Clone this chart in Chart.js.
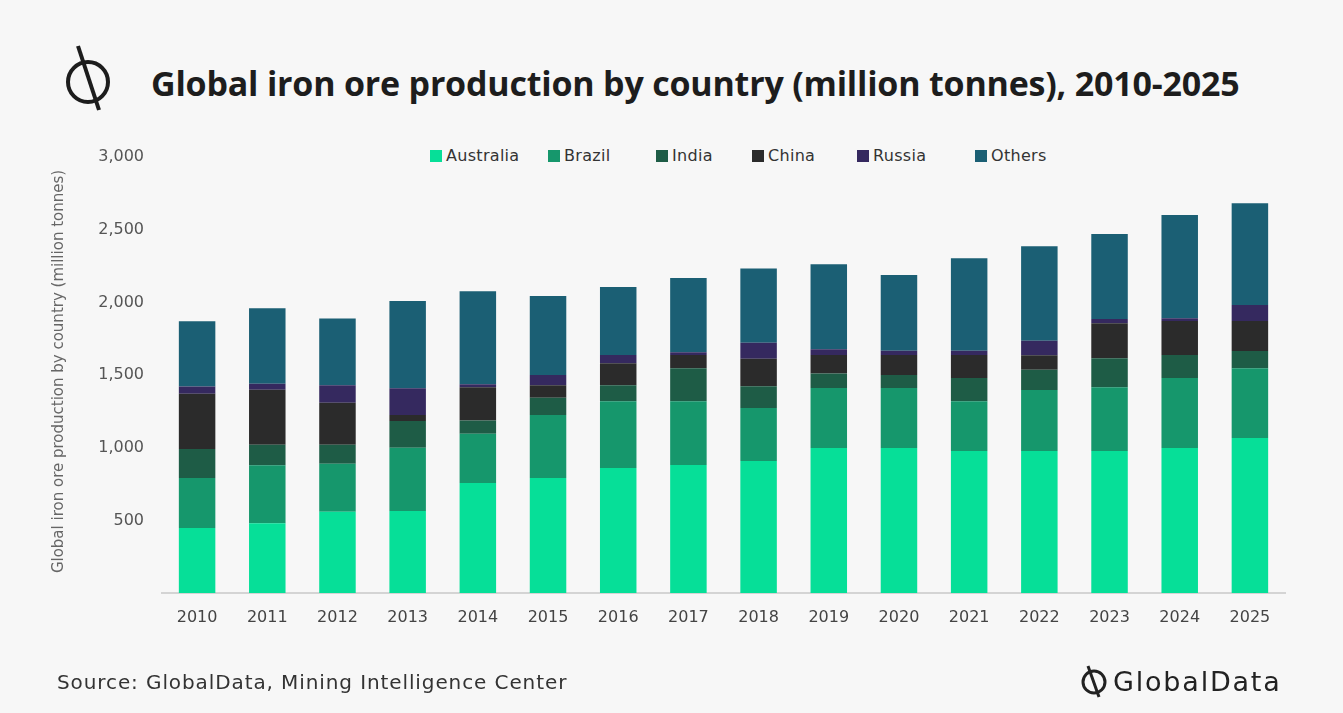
<!DOCTYPE html>
<html>
<head>
<meta charset="utf-8">
<script src="https://cdn.jsdelivr.net/npm/chart.js@4.4.1/dist/chart.umd.min.js"></script>
<style>
  body { margin: 0; background: #f7f7f7; font-family: "DejaVu Sans", sans-serif; }
  #wrap { position: relative; width: 1343px; height: 713px; overflow: hidden; }
  #Chart { position: absolute; left: 0; top: 0; }
  #title { position: absolute; left: 151px; top: 60px; font-family: "Open Sans", sans-serif; font-size: 34px; font-weight: bold; color: #1d1d1d; white-space: nowrap; letter-spacing: -0.2px; }
  #logo { position: absolute; left: 54px; top: 42px; }
  #legend span.item { position: absolute; top: 146px; display: flex; align-items: center; font-size: 16px; color: #333; white-space: nowrap; letter-spacing: 0.3px; }
  #legend span.box { width: 12px; height: 12px; margin-right: 4px; display: inline-block; }
  #source { position: absolute; left: 57px; top: 670px; font-size: 20px; color: #333; white-space: nowrap; letter-spacing: 0.9px; }
  #brand { position: absolute; left: 1078px; top: 664px; font-size: 27px; color: #222; display: flex; align-items: center; white-space: nowrap; letter-spacing: 1.8px; }
</style>
</head>
<body>
<div id="wrap">
  <svg id="logo" width="66" height="72" viewBox="0 0 66 72">
    <circle cx="34" cy="40" r="20" fill="none" stroke="#1d1d1d" stroke-width="4"/>
    <line x1="24" y1="4" x2="45" y2="68" stroke="#1d1d1d" stroke-width="4"/>
  </svg>
  <div id="title">Global iron ore production by country (million tonnes), 2010-2025</div>
  <div id="legend"></div>
  <canvas id="Chart" width="1343" height="713"></canvas>
  <div id="source">Source: GlobalData, Mining Intelligence Center</div>
  <div id="brand">
    <svg width="32" height="34" viewBox="0 0 32 34">
      <circle cx="16" cy="18" r="11" fill="none" stroke="#222" stroke-width="3"/>
      <line x1="10" y1="2" x2="21" y2="33" stroke="#222" stroke-width="3"/>
    </svg>
    <span style="margin-left:3px">GlobalData</span>
  </div>
</div>
<script>
var years = ['2010', '2011', '2012', '2013', '2014', '2015', '2016', '2017',
             '2018', '2019', '2020', '2021', '2022', '2023', '2024', '2025'];

// million tonnes
var australia = [447, 480, 560, 565, 757, 791, 860, 881, 908, 998, 998, 977, 977, 977, 998, 1067];
var brazil    = [344, 400, 330, 435, 340, 434, 461, 440, 365, 413, 413, 344, 420, 440, 482, 480];
var india     = [200, 140, 130, 185, 90, 120, 110, 227, 150, 100, 90, 160, 140, 200, 158, 120];
var china     = [380, 380, 290, 40, 230, 86, 150, 90, 190, 127, 137, 157, 100, 240, 234, 205];
var russia    = [50, 40, 120, 185, 20, 70, 57, 20, 110, 40, 30, 30, 100, 30, 20, 110];
var others    = [450, 520, 460, 600, 640, 543, 468, 510, 512, 586, 521, 637, 651, 584, 710, 702];

var yTicks = [500, 1000, 1500, 2000, 2500, 3000];

var seriesNames = ['Australia', 'Brazil', 'India', 'China', 'Russia', 'Others'];
var colors = ['#06df98', '#16976c', '#1e5c46', '#2b2b2b', '#35295f', '#1b5f74'];
var allData = [australia, brazil, india, china, russia, others];

var datasets = seriesNames.map(function (name, i) {
    return {
        label: name,
        data: allData[i],
        backgroundColor: colors[i],
        barPercentage: 0.52,
        categoryPercentage: 1
    };
});

// html legend, one item per series
var legendLeft = [430, 548, 656, 752, 857, 975];
var legend = document.getElementById('legend');
seriesNames.forEach(function (name, i) {
    var item = document.createElement('span');
    item.className = 'item';
    item.style.left = legendLeft[i] + 'px';
    item.innerHTML = '<span class="box" style="background:' + colors[i] + '"></span>' + name;
    legend.appendChild(item);
});

const ctx = document.getElementById('Chart');
var myChart = new Chart(ctx, {
    type: 'bar',
    data: { labels: years, datasets: datasets },
    options: {
        responsive: false,
        animation: false,
        layout: { padding: { left: 50, right: 58, top: 150, bottom: 0 } },
        plugins: {
            legend: { display: false },
            tooltip: { enabled: false }
        },
        scales: {
            x: {
                stacked: true,
                grid: { display: false, drawTicks: false },
                border: { color: '#d4d4d4', width: 2 },
                ticks: { color: '#444', padding: 15, font: { family: 'DejaVu Sans', size: 16 } },
                afterFit: function (scale) { scale.height = 120; }
            },
            y: {
                stacked: true,
                min: 0,
                max: 3050,
                grid: { display: false },
                border: { display: false },
                afterBuildTicks: function (axis) {
                    axis.ticks = yTicks.map(function (v) { return { value: v }; });
                },
                ticks: {
                    color: '#555',
                    padding: 10,
                    font: { family: 'DejaVu Sans', size: 16 },
                    callback: function (v) { return v.toLocaleString('en-US'); }
                },
                title: {
                    display: true,
                    text: 'Global iron ore production by country (million tonnes)',
                    color: '#666',
                    font: { family: 'DejaVu Sans', size: 15 },
                    padding: 0
                },
                afterFit: function (scale) { scale.width = 112; }
            }
        }
    }
});
</script>
</body>
</html>
